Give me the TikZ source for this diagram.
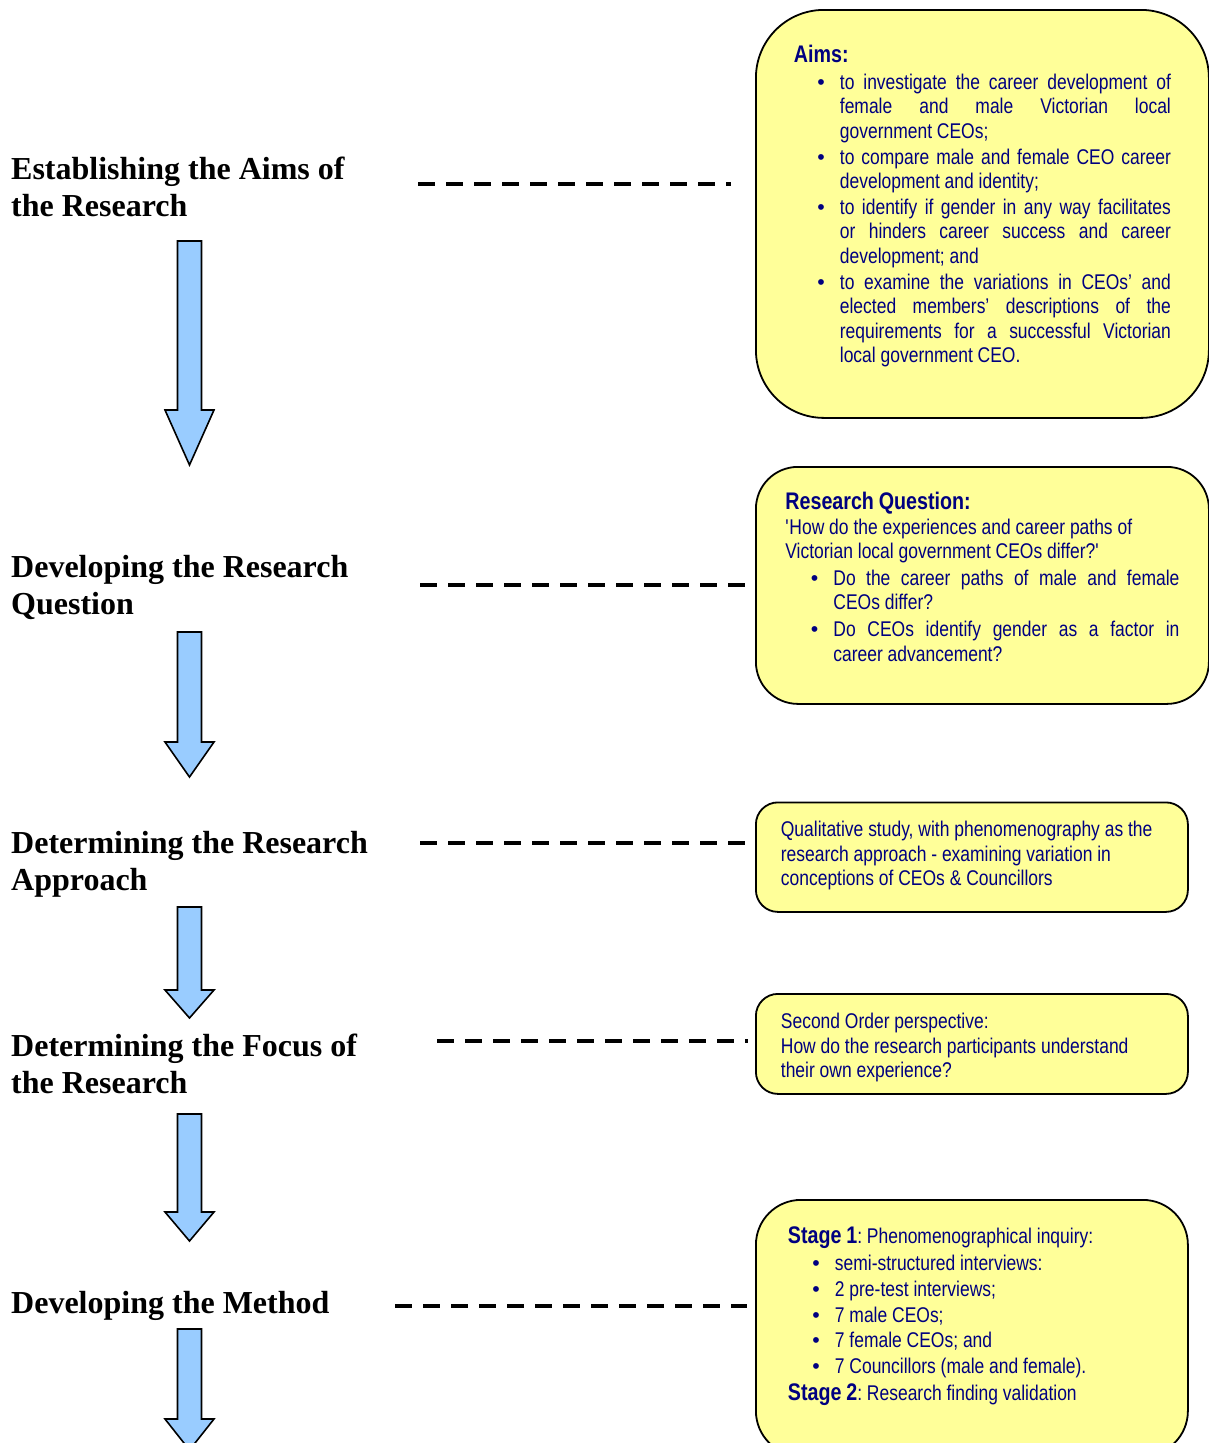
\documentclass[tikz,border=0pt]{standalone}
\usepackage{fontspec}
\usepackage{xcolor}
\setmainfont{Liberation Serif}
\newfontfamily\boxfont[FakeStretch=0.82]{Liberation Sans}
\newfontfamily\bulletfont{Liberation Sans}
\definecolor{boxyellow}{RGB}{255,255,153}
\definecolor{arrowblue}{RGB}{153,204,255}
\definecolor{boxtext}{RGB}{0,0,128}
\hyphenpenalty=10000
\exhyphenpenalty=10000
\tolerance=10000

% bullet list used inside the yellow boxes: #1 = left margin, #2 = gap between items
\newenvironment{boxlist}[2]{%
  \begin{list}{\bulletfont\textbullet}{%
    \setlength{\leftmargin}{#1}\setlength{\labelsep}{15pt}%
    \setlength{\labelwidth}{\dimexpr#1-15pt\relax}%
    \setlength{\topsep}{2pt}\setlength{\partopsep}{0pt}%
    \setlength{\parsep}{0pt}\setlength{\itemsep}{#2}}}%
  {\end{list}}
\newcommand{\boxhead}[1]{{\fontsize{24}{24.5}\selectfont\bfseries #1}}
% plain word spaces, stretched only, as in the source document
\newcommand{\boxspacing}{\frenchspacing\spaceskip=\fontdimen2\font plus \fontdimen3\font minus 0pt\relax}
% both margins flush
\makeatletter
\newcommand{\flush}{\leftskip=0pt\rightskip=0pt\@rightskip=0pt\parfillskip=0pt plus 1fil\relax}
\makeatother
% block arrow between two stages: top of shaft, start of head, tip
\newcommand{\stagearrow}[3]{%
  \draw[blockarrow] (177.5,#1) -- (201.5,#1) -- (201.5,#2) -- (214,#2)
    -- (189.5,#3) -- (165,#2) -- (177.5,#2) -- cycle;}

\tikzset{
x=1pt, y=-1pt, % one unit is one pixel, counted down from the top
stage/.style={anchor=base west, align=left, inner sep=0pt, font=\fontsize{32}{37}\selectfont\bfseries}, % headings on the left
infobox/.style={draw, line width=1.8pt, fill=boxyellow, text=boxtext, anchor=north west, inner ysep=0pt, font=\boxfont\fontsize{21.3}{24.5}\selectfont, execute at begin node=\boxspacing}, % yellow boxes
leader/.style={line width=3.5pt, dash pattern=on 17pt off 11pt}, % dashed links
blockarrow/.style={draw, line width=1.6pt, fill=arrowblue, line join=miter},
}

\begin{document}
\begin{tikzpicture}
    \useasboundingbox (0,0) rectangle (1209,1443);
    \clip (0,0) rectangle (1209,1443);

    \node[stage] (aims) at (11,216) {Establishing the Aims of\\the Research};
    \node[stage] (question) at (11,614) {Developing the Research\\Question};
    \node[stage] (approach) at (11,890) {Determining the Research\\Approach};
    \node[stage] (focus) at (11,1093) {Determining the Focus of\\the Research};
    \node[stage] (method) at (11,1313) {Developing the Method};

    \node[infobox, inner xsep=38pt, text width=377pt, text height=53pt, text depth=355pt, rounded corners=68pt] (aimsbox) at (755,9) {%
        \flush\boxhead{Aims:}\par
        \begin{boxlist}{46pt}{1.2pt}
        \item to investigate the career development of\linebreak female and male Victorian local government CEOs;
        \item to compare male and female CEO career development and identity;
        \item to identify if gender in any way facilitates or hinders career success and career development; and
        \item to examine the variations in CEOs’ and elected members’ descriptions of the requirements for a successful Victorian local government CEO.
        \end{boxlist}};
    \node[infobox, inner xsep=29.5pt, text width=394pt, text height=43pt, text depth=194pt, rounded corners=42pt] (questionbox) at (755,466) {%
        \flush\boxhead{Research Question:}\newline
        \textquotesingle How do the experiences and career paths of\newline
        Victorian local government CEOs differ?\textquotesingle\par
        \begin{boxlist}{48pt}{2.5pt}
        \item Do the career paths of male and female CEOs differ?
        \item Do CEOs identify gender as a factor in career advancement?
        \end{boxlist}};
    \node[infobox, inner xsep=25pt, text width=382pt, text height=34.5pt, text depth=75pt, rounded corners=22pt] (approachbox) at (755,801.5) {%
        \raggedright Qualitative study, with phenomenography as the\\
        research approach - examining variation in\\
        conceptions of CEOs \& Councillors};
    \node[infobox, inner xsep=25pt, text width=382pt, text height=35pt, text depth=65pt, rounded corners=22pt] (focusbox) at (755,993) {%
        \raggedright Second Order perspective:\\
        How do the research participants understand\\
        their own experience?};
    \node[infobox, inner xsep=32pt, text width=368pt, text height=44pt, text depth=212pt, rounded corners=45pt] (methodbox) at (755,1199) {%
        \raggedright \boxhead{Stage 1}: Phenomenographical inquiry:\par
        \begin{boxlist}{47pt}{1.3pt}
        \item semi-structured interviews:
        \item 2 pre-test interviews;
        \item 7 male CEOs;
        \item 7 female CEOs; and
        \item 7 Councillors (male and female).
        \end{boxlist}
        \boxhead{Stage 2}: Research finding validation};

    % dashed links from each stage to its box
    \coordinate (l1) at (418,184);
    \coordinate (l2) at (420,585);
    \coordinate (l3) at (420,843);
    \coordinate (l4) at (437,1041);
    \coordinate (l5) at (395,1306);
    \draw[leader, shorten >=24pt] (l1) -- (l1 -| aimsbox.west);
    \draw[leader, shorten >=10pt] (l2) -- (l2 -| questionbox.west);
    \draw[leader, shorten >=10pt] (l3) -- (l3 -| approachbox.west);
    \draw[leader, shorten >=7pt] (l4) -- (l4 -| focusbox.west);
    \draw[leader, shorten >=8pt] (l5) -- (l5 -| methodbox.west);

    \stagearrow{241}{410}{465}
    \stagearrow{632}{742}{777}
    \stagearrow{907}{990}{1018}
    \stagearrow{1114}{1212}{1241}
    \stagearrow{1329}{1419}{1450}

\end{tikzpicture}
\end{document}
